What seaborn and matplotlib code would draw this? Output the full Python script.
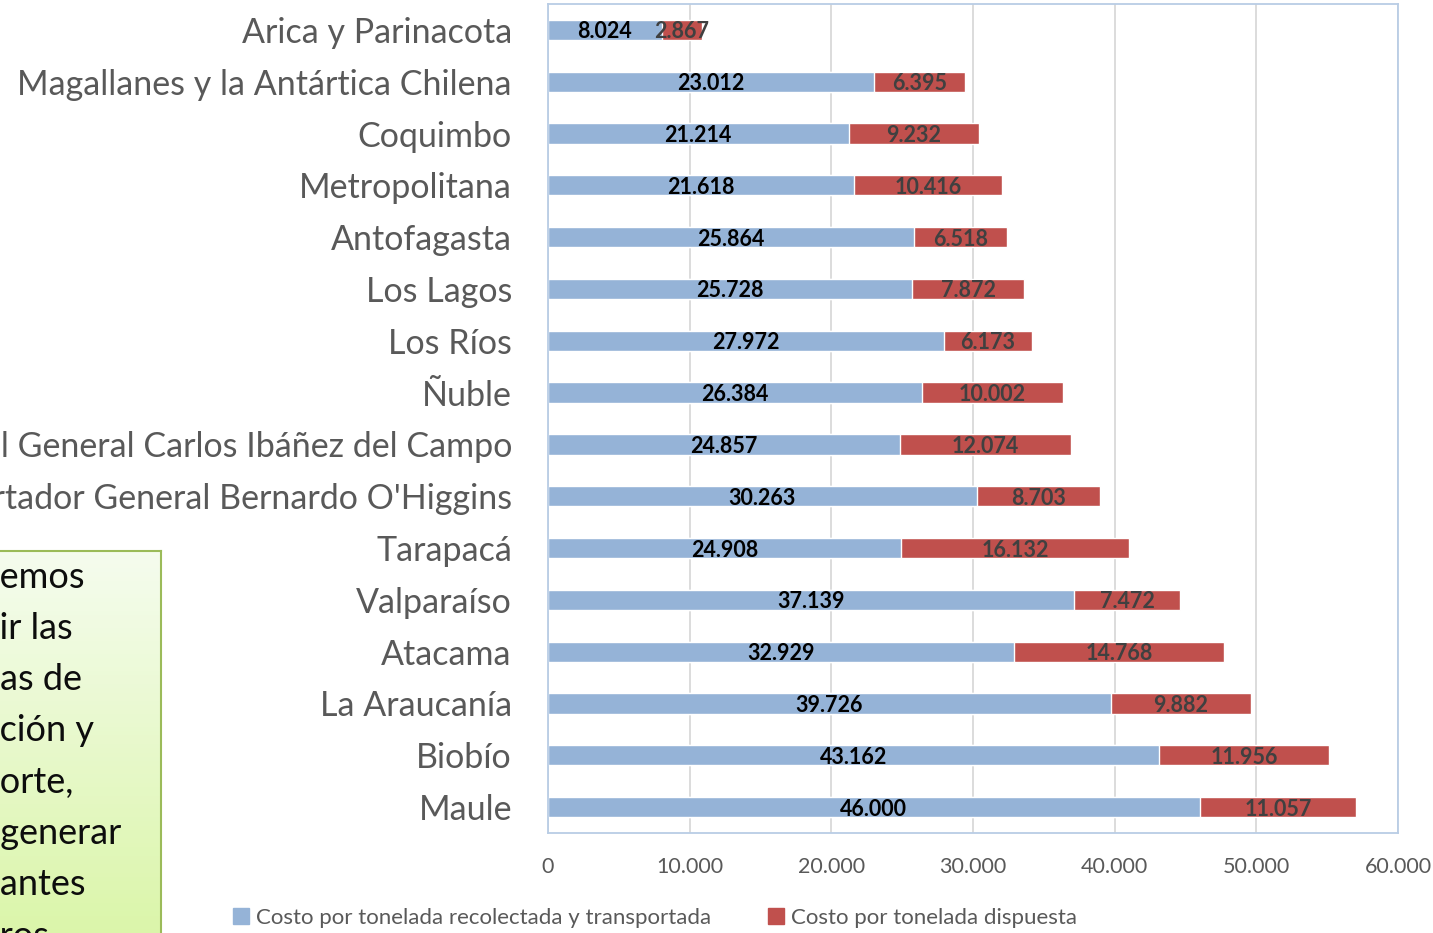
import numpy as np
import pandas as pd
import seaborn as sns
import matplotlib.pyplot as plt
from matplotlib.patches import Patch
from matplotlib.colors import LinearSegmentedColormap
from matplotlib.ticker import FuncFormatter

# data (costo por tonelada, por region)
regions = ['Arica y Parinacota', 'Magallanes y la Antártica Chilena', 'Coquimbo',
           'Metropolitana', 'Antofagasta', 'Los Lagos', 'Los Ríos', 'Ñuble',
           'Aysén del General Carlos Ibáñez del Campo',
           "Libertador General Bernardo O'Higgins", 'Tarapacá', 'Valparaíso',
           'Atacama', 'La Araucanía', 'Biobío', 'Maule']
recoleccion = [8024, 23012, 21214, 21618, 25864, 25728, 27972, 26384,
               24857, 30263, 24908, 37139, 32929, 39726, 43162, 46000]
disposicion = [2867, 6395, 9232, 10416, 6518, 7872, 6173, 10002,
               12074, 8703, 16132, 7472, 14768, 9882, 11956, 11057]
xticks = [0, 10000, 20000, 30000, 40000, 50000, 60000]
legend_labels = ['Costo por tonelada recolectada y transportada',
                 'Costo por tonelada dispuesta']
# note box: full line and the part that is visible at the page edge
box_lines = ['Debemos', 'reducir las', 'distancias de', 'recolección y',
             'transporte,', 'para generar', 'importantes', 'ahorros']
box_visible = ['emos', 'ir las', 'as de', 'ción y', 'orte,', 'generar',
               'antes', 'ros']

BLUE = '#95B3D7'
RED = '#C0504D'
GRAY = '#595959'

def miles(v):
    return f'{int(v):,}'.replace(',', '.')

df = pd.DataFrame({'Region': regions, 'Recoleccion': recoleccion,
                   'Disposicion': disposicion})
df['Total'] = df['Recoleccion'] + df['Disposicion']

sns.set_theme(style='white')
plt.rcParams['font.family'] = ['Lato', 'DejaVu Sans']

W, H = 1433, 933
fig = plt.figure(figsize=(W / 100, H / 100), dpi=100)
ax = fig.add_axes([548 / W, 1 - 833 / H, 850 / W, 829 / H])

sns.barplot(data=df, x='Total', y='Region', color=RED, width=0.39,
            saturation=1, orient='h', ax=ax)
sns.barplot(data=df, x='Recoleccion', y='Region', color=BLUE, width=0.39,
            saturation=1, orient='h', ax=ax)

# data labels, centred in each segment
for i, row in df.iterrows():
    ax.text(row['Recoleccion'] / 2, i, miles(row['Recoleccion']),
            ha='center', va='center_baseline', fontsize=15.5,
            fontweight='bold', color='black')
    ax.text(row['Recoleccion'] + row['Disposicion'] / 2, i, miles(row['Disposicion']),
            ha='center', va='center_baseline', fontsize=15.5,
            fontweight='bold', color='#404040')

ax.set_xlim(0, 60000)
ax.set_ylim(15.5, -0.5)
ax.set_xticks(xticks)
ax.xaxis.set_major_formatter(FuncFormatter(lambda v, p: miles(v)))
ax.set_xlabel('')
ax.set_ylabel('')
ax.tick_params(axis='x', length=0, pad=17, labelsize=15.5, labelcolor=GRAY)
ax.tick_params(axis='y', length=0, pad=26, labelsize=24.5, labelcolor=GRAY)
ax.xaxis.grid(True, color='#D9D9D9', lw=1.3)
ax.set_axisbelow(True)
for s in ax.spines.values():
    s.set_color('#B9CDE5')
    s.set_linewidth(1.3)

handles = [Patch(color=BLUE), Patch(color=RED)]
fig.legend(handles, legend_labels, loc='center', ncol=2, frameon=False,
           bbox_to_anchor=(655 / W, 1 - 918 / H), fontsize=16,
           handlelength=0.7, handleheight=0.7, handletextpad=0.3,
           columnspacing=2.6, labelcolor=GRAY)

# green note box (cut by the page)
bx = fig.add_axes([-0.05, -0.05, 161 / W + 0.05, 1 - 551 / H + 0.05])
cmap = LinearSegmentedColormap.from_list('g', ['#D8F5A2', '#F5FCEE'])
bx.imshow(np.linspace(0, 1, 100).reshape(-1, 1), cmap=cmap, aspect='auto',
          origin='lower', extent=[0, 1, 0, 1])
bx.set_xticks([])
bx.set_yticks([])
for s in bx.spines.values():
    s.set_color('#9BBB59')
    s.set_linewidth(1.5)

renderer = fig.canvas.get_renderer()
for k, (line, vis) in enumerate(zip(box_lines, box_visible)):
    y = 1 - (577 + k * 51.3) / H
    t = fig.text(0, y, line, fontsize=26, color='#0D0D0D', ha='left', va='center')
    full_w = t.get_window_extent(renderer).width
    tv = fig.text(0, y, vis, fontsize=26, ha='left', va='center')
    vis_w = tv.get_window_extent(renderer).width
    tv.remove()
    t.set_x((0 - (full_w - vis_w)) / W)

fig.savefig('out.png', dpi=100)
